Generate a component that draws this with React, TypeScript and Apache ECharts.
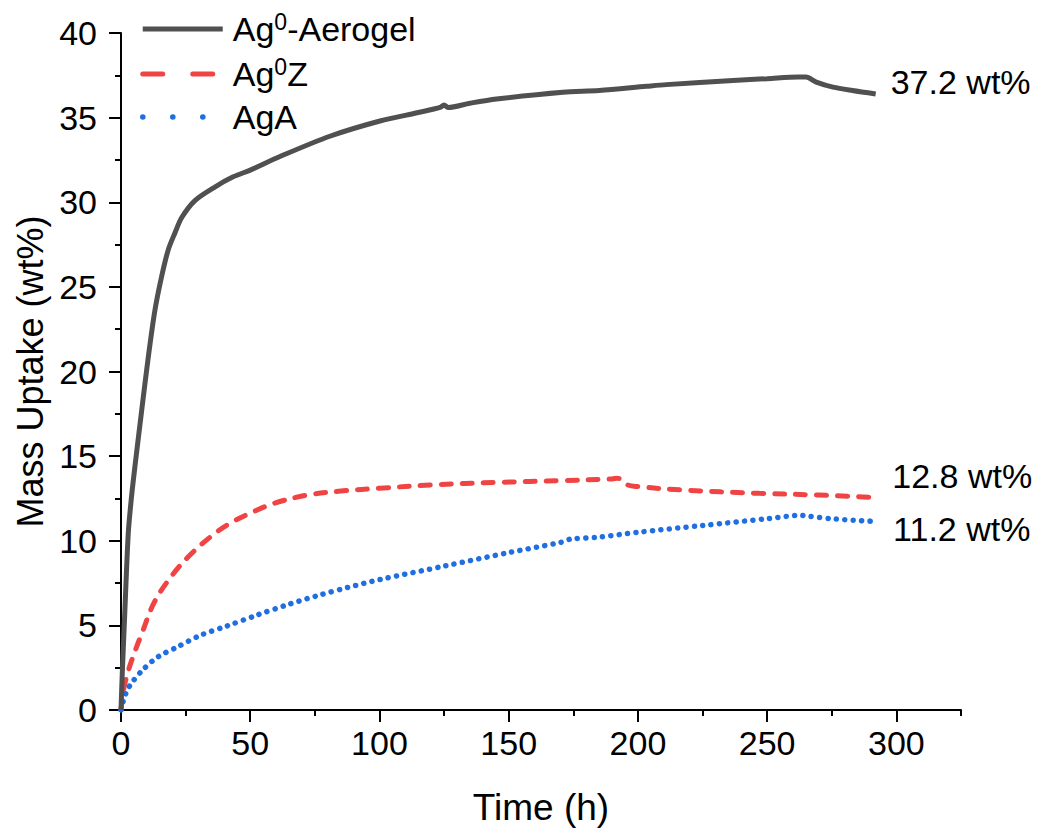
import React, { useEffect, useRef } from "react";
import * as echarts from "echarts";

const FONT = "'Liberation Sans', Arial, sans-serif";

const aerogelX = [0, 0.5, 1.4, 2.8, 4.0, 5.4, 8.0, 10.6, 13.1, 15.7, 18.3, 20.9, 23.5, 28.6, 36.3, 43.4, 50, 61.5, 80.8, 100.2, 115, 123.5, 125, 126.5, 135, 145.3, 171, 185, 203.3, 211, 236.8, 250, 262, 265, 269, 275.5, 283, 292];
const aerogelY = [0, 2.2, 5.5, 10.4, 12.5, 14.4, 17.7, 20.9, 23.6, 25.6, 27.2, 28.2, 29.1, 30.1, 30.9, 31.5, 31.9, 32.7, 33.9, 34.8, 35.3, 35.6, 35.75, 35.6, 35.85, 36.1, 36.5, 36.6, 36.85, 36.95, 37.2, 37.3, 37.4, 37.4, 37.1, 36.8, 36.6, 36.4];

const zeoliteX = [0, 1, 2.8, 5, 8, 13, 20, 27, 36, 43, 51, 59, 72, 86, 100, 120, 146, 170, 190, 192, 196, 200, 217, 247, 270, 293];
const zeoliteY = [0, 1.2, 2.3, 3.3, 4.5, 6.4, 8.0, 9.2, 10.4, 11.1, 11.7, 12.2, 12.7, 12.95, 13.1, 13.3, 13.45, 13.55, 13.65, 13.7, 13.3, 13.2, 13.0, 12.8, 12.7, 12.55];

const agaX = [0, 1, 2.2, 4.1, 8.6, 14.4, 21.5, 30.5, 40.9, 52.5, 64, 77, 88, 100, 125, 150, 170, 174, 184, 200, 225, 250, 263, 266, 275, 291];
const agaY = [0, 0.6, 1.1, 1.6, 2.4, 3.15, 3.7, 4.4, 4.96, 5.6, 6.2, 6.8, 7.25, 7.7, 8.5, 9.3, 9.9, 10.1, 10.2, 10.5, 10.9, 11.3, 11.5, 11.45, 11.3, 11.15];

const seriesNames = ["Ag0-Aerogel", "Ag0Z", "AgA"];
const endLabels = ["37.2 wt%", "12.8 wt%", "11.2 wt%"];
const xMajorTicks = [0, 50, 100, 150, 200, 250, 300];

const pairs = (xs: number[], ys: number[]) => xs.map((x, i) => [x, ys[i]]);

export default function App() {
  const ref = useRef<HTMLDivElement>(null);
  useEffect(() => {
    if (!ref.current) return;
    const chart = echarts.init(ref.current, null, { renderer: "svg" });
    const labelStyle = { fontFamily: FONT, fontSize: 34, color: "#000" };
    const rich = {
      n: { fontFamily: FONT, fontSize: 34, color: "#000", verticalAlign: "bottom" as const },
      s: { fontFamily: FONT, fontSize: 23, color: "#000", verticalAlign: "bottom" as const, padding: [0, 0, 13, 0] },
    };
    chart.setOption({
      animation: false,
      backgroundColor: "#fff",
      grid: { left: 121, right: 81, top: 33, bottom: 121, containLabel: false },
      legend: {
        left: 140,
        top: 10,
        orient: "vertical",
        padding: 0,
        itemWidth: 80,
        itemHeight: 14,
        itemGap: 9,
        itemStyle: { opacity: 0 },
        textStyle: { ...labelStyle, lineHeight: 34, padding: [0, 0, 0, 5], rich },
        formatter: (name: string) => {
          if (name === "Ag0-Aerogel") return "{n|Ag}{s|0}{n|-Aerogel}";
          if (name === "Ag0Z") return "{n|Ag}{s|0}{n|Z}";
          return "{n|" + name + "}";
        },
        data: [
          { name: seriesNames[0], lineStyle: { type: "solid", width: 5 } },
          { name: seriesNames[1], lineStyle: { type: [20, 30], width: 5, cap: "round" } },
          { name: seriesNames[2], lineStyle: { type: [0.1, 29.9], width: 5.5, cap: "round" } },
        ],
      },
      xAxis: [
        {
          type: "value",
          min: 0,
          max: 325,
          interval: 50,
          name: "Time (h)",
          nameLocation: "middle",
          nameGap: 79,
          nameTextStyle: { fontFamily: FONT, fontSize: 37, color: "#000" },
          axisLine: { show: true, lineStyle: { color: "#000", width: 2 } },
          axisTick: { show: true, length: 12, lineStyle: { color: "#000", width: 2 }, customValues: xMajorTicks },
          axisLabel: { ...labelStyle, margin: 16, customValues: xMajorTicks },
          splitLine: { show: false },
        },
        {
          type: "value",
          min: 0,
          max: 325,
          interval: 25,
          position: "bottom",
          offset: 0,
          axisLine: { show: false },
          axisTick: { show: true, length: 6, lineStyle: { color: "#000", width: 2 } },
          axisLabel: { show: false },
          splitLine: { show: false },
        },
      ],
      yAxis: {
        type: "value",
        min: 0,
        max: 40,
        interval: 5,
        name: "Mass Uptake (wt%)",
        nameLocation: "middle",
        nameGap: 73,
        nameTextStyle: { fontFamily: FONT, fontSize: 36, color: "#000" },
        axisLine: { show: true, lineStyle: { color: "#000", width: 2 } },
        axisTick: { show: true, length: 12, lineStyle: { color: "#000", width: 2 } },
        minorTick: { show: true, splitNumber: 2, length: 6, lineStyle: { color: "#000", width: 2 } },
        axisLabel: { ...labelStyle, margin: 24 },
        splitLine: { show: false },
      },
      series: [
        {
          name: seriesNames[1],
          type: "line",
          xAxisIndex: 0,
          data: pairs(zeoliteX, zeoliteY),
          symbol: "none",
          smooth: 0.35,
          color: "#f04444",
          lineStyle: { color: "#f04444", width: 5, type: [10, 11], cap: "round" },
          endLabel: { show: true, formatter: endLabels[1], ...labelStyle, distance: 0, offset: [14, -22] },
          z: 2,
        },
        {
          name: seriesNames[2],
          type: "line",
          xAxisIndex: 0,
          data: pairs(agaX, agaY),
          symbol: "none",
          smooth: 0.3,
          color: "#1f6fe0",
          lineStyle: { color: "#1f6fe0", width: 5.5, type: [0.1, 8.3], cap: "round" },
          endLabel: { show: true, formatter: endLabels[2], ...labelStyle, distance: 0, offset: [20, 8] },
          z: 3,
        },
        {
          name: seriesNames[0],
          type: "line",
          xAxisIndex: 0,
          data: pairs(aerogelX, aerogelY),
          symbol: "none",
          smooth: 0.3,
          color: "#505050",
          lineStyle: { color: "#505050", width: 5 },
          endLabel: { show: true, formatter: endLabels[0], ...labelStyle, distance: 0, offset: [15, -12] },
          z: 4,
        },
      ],
    });
    return () => chart.dispose();
  }, []);
  return <div ref={ref} style={{ width: 1042, height: 831, position: "absolute", left: 0, top: 0 }} />;
}
